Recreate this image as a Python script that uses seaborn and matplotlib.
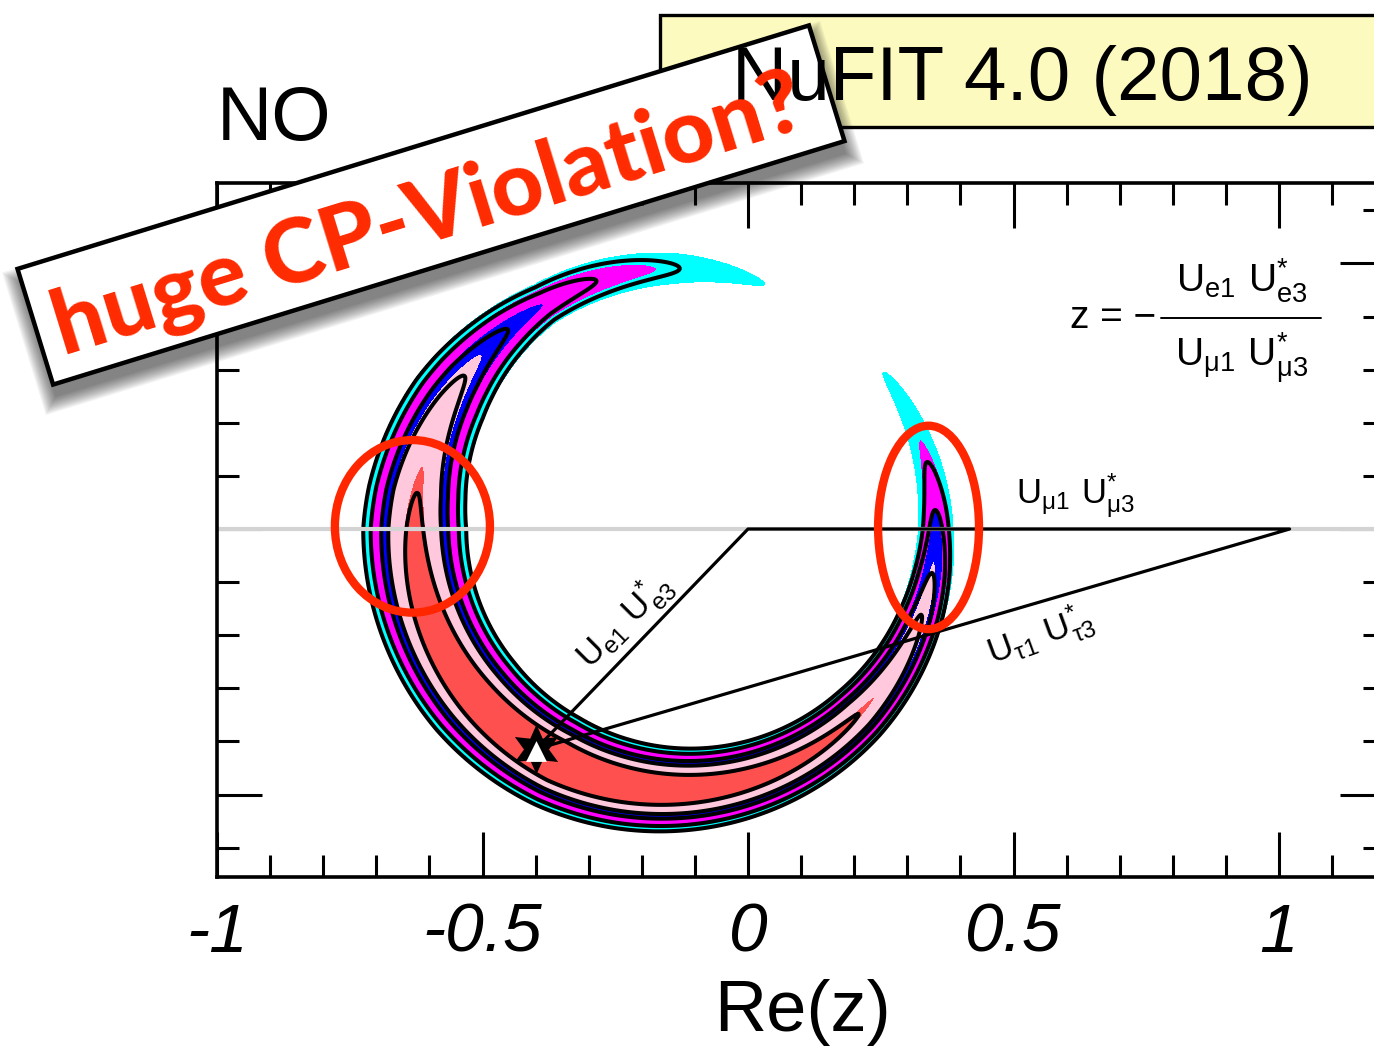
import numpy as np
import matplotlib
matplotlib.use("Agg")
import matplotlib.pyplot as plt
from matplotlib.patches import Ellipse, Polygon, Rectangle
from matplotlib.ticker import MultipleLocator
import seaborn as sns

# ---------------- data ----------------
# ring of allowed z values: centre and radius in the complex plane
ring_center = [-0.137, 0.0]
ring_radius = 0.4906

# minimum Delta chi^2 along the ring vs polar angle (deg) -- filled regions
ang_fill = [50, 70, 94, 120.4, 138, 166, 243, 320, 353, 364, 380, 397, 410]
chi_fill = [16.0, 11.83, 9.21, 6.18, 4.61, 2.30, 0.0, 2.30, 4.61, 6.18, 9.21, 11.83, 16.0]

# same for the black-line analysis
ang_line = [50, 89, 107.6, 130, 144, 172, 243, 314.8, 340.8, 350.3, 364.2, 374.9, 410]
chi_line = [18.0, 11.83, 9.21, 6.18, 4.61, 2.30, 0.0, 2.30, 4.61, 6.18, 9.21, 11.83, 18.0]

# radial width scale of the band vs polar angle (deg)
ang_width = [50, 90, 120, 150, 180, 220, 258, 300, 340, 360, 410]
band_width = [0.014, 0.019, 0.017, 0.026, 0.031, 0.029, 0.025, 0.020, 0.015, 0.013, 0.013]

levels = [2.30, 4.61, 6.18, 9.21, 11.83]
fill_colors = ["#FF5050", "#FFC8DC", "#0000FF", "#FF00FF", "#00FFFF"]

# unitarity triangle: best fit point and the two fixed vertices
best_fit = [-0.400, -0.415]
vertex_a = [0.0, 0.0]
vertex_b = [1.02, 0.0]

xtick_vals = [-1, -0.5, 0, 0.5, 1]
xtick_text = ["-1", "-0.5", "0", "0.5", "1"]

# ---------------- style ----------------
sns.set_style("white")
plt.rcParams["font.family"] = ["Liberation Sans", "DejaVu Sans"]
plt.rcParams["mathtext.default"] = "regular"
plt.rcParams["text.color"] = "black"
plt.rcParams["axes.labelcolor"] = "black"
plt.rcParams["xtick.color"] = "black"
plt.rcParams["ytick.color"] = "black"

fig = plt.figure(figsize=(13.74, 10.47), dpi=100)
W, H = 1374, 1047
scale = 531.0
ax = fig.add_axes([217 / W, (H - 877) / H, 2.2 * scale / W, 694 / H])
ax.set_xlim(-1.0, 1.2)
ax.set_ylim(-348 / scale, 346 / scale)

# ---------------- contours ----------------
xs = np.linspace(-1.0, 1.2, 1300)
ys = np.linspace(-0.66, 0.66, 780)
X, Y = np.meshgrid(xs, ys)
dx = X - ring_center[0]
dy = Y - ring_center[1]
r = np.hypot(dx, dy)
phi = np.degrees(np.arctan2(dy, dx)) % 360.0
phi = np.where(phi < 50, phi + 360.0, phi)
wid = np.interp(phi, ang_width, band_width)
radial = ((r - ring_radius) / wid) ** 2
chi_f = np.interp(phi, ang_fill, chi_fill) + radial
chi_l = np.interp(phi, ang_line, chi_line) + radial

ax.contourf(X, Y, chi_f, levels=[-1] + levels, colors=fill_colors, zorder=1)
ax.contour(X, Y, chi_l, levels=levels, colors="black", linewidths=2.9, zorder=2)

# ---------------- triangle ----------------
ax.axhline(0, color="#D3D3D3", lw=3.0, zorder=2.3)
tri_x = [best_fit[0], vertex_a[0], vertex_b[0], best_fit[0]]
tri_y = [best_fit[1], vertex_a[1], vertex_b[1], best_fit[1]]
sns.lineplot(x=tri_x, y=tri_y, sort=False, estimator=None, color="black",
             lw=2.3, ax=ax, zorder=4)
sns.scatterplot(x=[best_fit[0]], y=[best_fit[1]], marker=(6, 1, 0), s=36 ** 2,
                color="black", edgecolor="black", linewidth=0, ax=ax, zorder=5)
sns.scatterplot(x=[best_fit[0]], y=[best_fit[1] - 0.003], marker="^", s=15 ** 2,
                color="white", edgecolor="white", linewidth=0, ax=ax, zorder=6)

# ---------------- red ellipses ----------------
ax.add_patch(Ellipse((-0.632, 0.005), 0.292, 0.325, fill=False,
                     edgecolor="#FF2600", lw=6.0, zorder=7))
ax.add_patch(Ellipse((0.340, 0.003), 0.190, 0.383, fill=False,
                     edgecolor="#FF2600", lw=6.0, zorder=7))

# ---------------- labels in the plot ----------------
lab_fs = 25
ax.text(-0.234, -0.172, r"$U_{e1}\ U^{*}_{e3}$", rotation=45, fontsize=lab_fs,
        ha="center", va="center", rotation_mode="anchor", zorder=8)
ax.text(0.617, 0.062, r"$U_{\mu1}\ U^{*}_{\mu3}$", fontsize=lab_fs,
        ha="center", va="center", zorder=8)
ax.text(0.551, -0.200, r"$U_{\tau1}\ U^{*}_{\tau3}$", rotation=20, fontsize=lab_fs,
        ha="center", va="center", rotation_mode="anchor", zorder=8)

ax.text(0.688, 0.398, "z = \u2212", fontsize=28, ha="center", va="center", zorder=8)
ax.plot([0.777, 1.079], [0.398, 0.398], color="black", lw=1.4, zorder=8)
ax.text(0.930, 0.468, r"$U_{e1}\ U^{*}_{e3}$", fontsize=28, ha="center", va="center", zorder=8)
ax.text(0.930, 0.322, r"$U_{\mu1}\ U^{*}_{\mu3}$", fontsize=28, ha="center", va="center", zorder=8)

# ---------------- axes decoration ----------------
ax.set_xticks(xtick_vals)
ax.set_xticklabels(xtick_text, fontsize=50, fontstyle="italic")
ax.set_yticks([-0.5, 0, 0.5])
ax.xaxis.set_minor_locator(MultipleLocator(0.1))
ax.yaxis.set_minor_locator(MultipleLocator(0.1))
ax.tick_params(which="both", direction="in", top=True, right=True, bottom=True,
               left=True, labelleft=False, color="black", width=2.2)
ax.tick_params(which="major", length=32.5, pad=18)
ax.tick_params(which="minor", length=16)
for sp in ax.spines.values():
    sp.set_linewidth(2.6)
    sp.set_color("black")
ax.set_xlabel("Re(z)", fontsize=52)
ax.xaxis.set_label_coords((802 - 217) / (2.2 * scale), (877 - 1012) / 694)
ax.xaxis.label.set_va("center")
ax.set_ylabel("")

# ---------------- overlay (pixel coords, y up) ----------------
ov = fig.add_axes([0, 0, 1, 1], zorder=10)
ov.set_xlim(0, W)
ov.set_ylim(0, H)
ov.axis("off")

ov.text(274, H - 140, "NO", fontsize=55, ha="center", va="baseline")

ov.add_patch(Rectangle((660, H - 127), 800, 112, facecolor="#FCFABF",
                       edgecolor="black", lw=2.4))
ov.text(732, H - 100, "NuFIT 4.0 (2018)", fontsize=55, ha="left", va="baseline")

# banner
cx, cy = 431.0, H - 205.0
L, Hh = 828.0, 121.0
th = np.radians(17.1)
rot = np.array([[np.cos(th), -np.sin(th)], [np.sin(th), np.cos(th)]])


def banner_corners(grow=0.0, off=(0.0, 0.0)):
    pts = np.array([[-L / 2 - grow, -Hh / 2 - grow], [L / 2 + grow, -Hh / 2 - grow],
                    [L / 2 + grow, Hh / 2 + grow], [-L / 2 - grow, Hh / 2 + grow]])
    pts = pts @ rot.T
    pts[:, 0] += cx + off[0]
    pts[:, 1] += cy + off[1]
    return pts


for k in range(12):
    ov.add_patch(Polygon(banner_corners(grow=14 - k * 1.3, off=(2, -13)),
                         closed=True, facecolor="black", edgecolor="none",
                         alpha=0.05))
ov.add_patch(Polygon(banner_corners(), closed=True, facecolor="white",
                     edgecolor="black", lw=3.2))
ov.text(cx - 2, cy - 12, "huge CP-Violation?", fontsize=65, color="#FF2A00",
        family=["Lato", "DejaVu Sans"], fontweight="black", rotation=17.1,
        rotation_mode="anchor", ha="center", va="center")

fig.savefig("out.png", dpi=100)
